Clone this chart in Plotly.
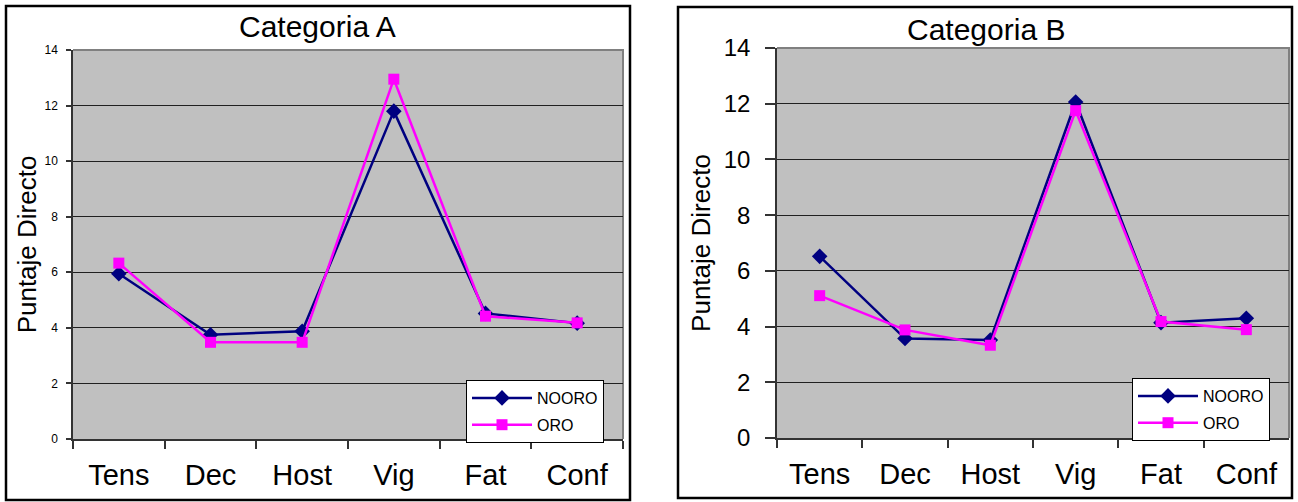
import plotly.graph_objects as go

W, H = 1298, 502

categorias = ["Tens", "Dec", "Host", "Vig", "Fat", "Conf"]
y_ticks = [0, 2, 4, 6, 8, 10, 12, 14]

# Categoria A
a_no_oro = [5.95, 3.75, 3.88, 11.8, 4.52, 4.17]
a_oro = [6.33, 3.48, 3.48, 12.95, 4.42, 4.18]

# Categoria B
b_no_oro = [6.52, 3.57, 3.52, 12.06, 4.14, 4.3]
b_oro = [5.11, 3.88, 3.33, 11.75, 4.18, 3.89]

serie_nombres = ["NOORO", "ORO"]
NAVY = "#000080"
MAGENTA = "#FF00FF"
FONT = "Liberation Sans"


def px_x(p):
    return p / W


def px_y(p):
    return 1 - p / H


fig = go.Figure()

paneles = [
    ("x", "y", "legend", a_no_oro, a_oro),
    ("x2", "y2", "legend2", b_no_oro, b_oro),
]
for xa, ya, leg, no_oro, oro in paneles:
    fig.add_trace(go.Scatter(
        x=categorias, y=no_oro, name=serie_nombres[0], mode="lines+markers",
        line=dict(color=NAVY, width=2.5),
        marker=dict(symbol="diamond", size=12, color=NAVY),
        xaxis=xa, yaxis=ya, legend=leg, legendgroup=leg + "a",
    ))
    fig.add_trace(go.Scatter(
        x=categorias, y=oro, name=serie_nombres[1], mode="lines+markers",
        line=dict(color=MAGENTA, width=2.5),
        marker=dict(symbol="square", size=11, color=MAGENTA),
        xaxis=xa, yaxis=ya, legend=leg, legendgroup=leg + "b",
    ))

# plot-area boxes in pixel coordinates: (left, right, top, bottom)
area_a = (73, 623, 50, 439)
area_b = (777, 1289, 48, 438)


def x_axis(area, anchor, font_size):
    return dict(
        domain=[px_x(area[0]), px_x(area[1])], anchor=anchor,
        type="category", range=[-0.5, 5.5], automargin=False,
        showgrid=False, zeroline=False,
        showline=True, linecolor="#333333", linewidth=1.5,
        ticks="outside", tickson="boundaries", ticklen=8,
        tickcolor="#333333", tickwidth=1.5,
        ticklabelstandoff=9,
        tickfont=dict(family=FONT, size=font_size, color="black"),
    )


def y_axis(area, anchor, tick_size, ticklen, standoff, title_standoff):
    return dict(
        domain=[px_y(area[3]), px_y(area[2])],
        anchor=anchor, range=[0, 14], tickvals=y_ticks, automargin=False,
        showgrid=True, gridcolor="#202020", gridwidth=1,
        zeroline=False,
        showline=True, linecolor="#333333", linewidth=1.5,
        ticks="outside", ticklen=ticklen, tickcolor="#333333", tickwidth=1.5,
        ticklabelstandoff=standoff,
        tickfont=dict(family=FONT, size=tick_size, color="black"),
        title=dict(text="Puntaje Directo", standoff=title_standoff,
                   font=dict(family=FONT, size=26, color="black")),
    )


def legend_box(area_right, top):
    return dict(
        x=px_x(area_right), y=px_y(top), xanchor="left", yanchor="top",
        bgcolor="white", bordercolor="black", borderwidth=1,
        font=dict(family=FONT, size=16, color="black"),
        itemwidth=60, tracegroupgap=3,
    )


fig.update_layout(
    width=W, height=H,
    margin=dict(l=0, r=0, t=0, b=0, autoexpand=False),
    paper_bgcolor="white",
    plot_bgcolor="#C0C0C0",
    showlegend=True,
    xaxis=x_axis(area_a, "y", 29),
    yaxis=y_axis(area_a, "x", 12, 5, 6, 0),
    xaxis2=x_axis(area_b, "y2", 29),
    yaxis2=y_axis(area_b, "x2", 24, 10, 10, 6),
    legend=legend_box(466, 380),
    legend2=legend_box(1132, 378),
)

# chart titles
for texto, cx, cy in [("Categoria A", 317, 27), ("Categoria B", 986, 30)]:
    fig.add_annotation(text=texto, x=px_x(cx), y=px_y(cy), xref="paper", yref="paper",
                       xanchor="center", yanchor="middle", showarrow=False,
                       font=dict(family=FONT, size=30, color="black"))

shapes = []
# outer chart frames
for (l, r, t, b) in [(6, 630, 6, 500), (678, 1292, 7, 498)]:
    shapes.append(dict(type="rect", xref="paper", yref="paper",
                       x0=px_x(l), x1=px_x(r), y0=px_y(b), y1=px_y(t),
                       line=dict(color="black", width=2.5), layer="above"))
# grey rim along the top and right of each plot area
for (l, r, t, b) in [area_a, area_b]:
    shapes.append(dict(type="path", xref="paper", yref="paper",
                       path=f"M{px_x(l)},{px_y(t)} L{px_x(r)},{px_y(t)} L{px_x(r)},{px_y(b)}",
                       line=dict(color="#808080", width=2), layer="below"))
fig.update_layout(shapes=shapes)

fig.write_html("out.html")
